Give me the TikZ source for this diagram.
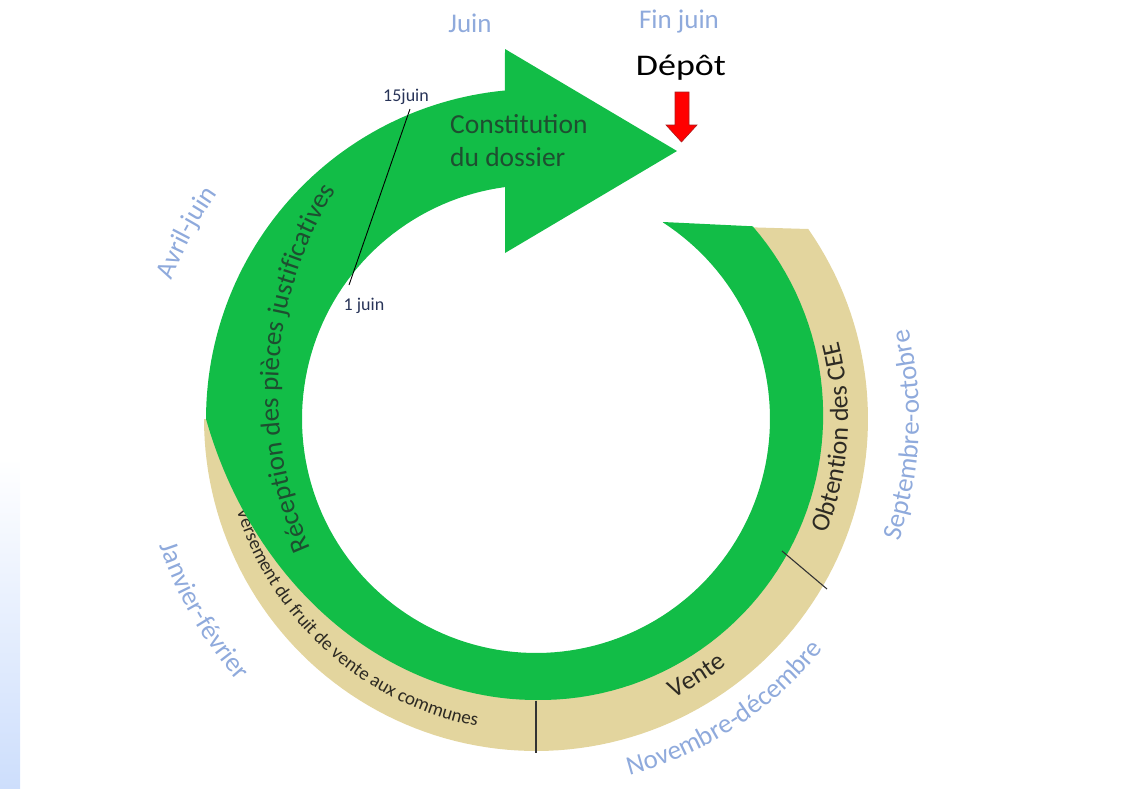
\documentclass[tikz,border=0pt]{standalone}
\usepackage{fontspec}
\setmainfont{Carlito}
\usetikzlibrary{decorations.text}
\definecolor{ringgreen}{RGB}{18,189,71}
\definecolor{ringtan}{RGB}{227,213,158}
\definecolor{monthblue}{RGB}{143,170,220}
\definecolor{datenavy}{RGB}{40,52,88}
\definecolor{greentext}{RGB}{30,78,48}
\definecolor{tantext}{RGB}{45,42,35}
\definecolor{depotedge}{RGB}{170,30,30}
\definecolor{stripblue}{RGB}{205,222,252}
\newcommand{\ringtext}[6]{%
  \path[shift={#1}, decorate, decoration={text along path, text align=center, text={|#5|#6}}]
    (#3:#2) arc[start angle=#3, end angle=#4, radius=#2];%
}
\tikzset{
  month/.style={text=monthblue, font=\fontsize{27}{30}\selectfont, anchor=base},
  datelbl/.style={text=datenavy, font=\fontsize{18}{20}\selectfont, anchor=base},
  tick/.style={line width=1.1pt, draw=black!80},
}
\begin{document}
\begin{tikzpicture}[x=1pt,y=1pt]
\useasboundingbox (0,0) rectangle (1128,-788);
% left gradient strip
\shade[top color=white, bottom color=stripblue] (0,-458) rectangle (20,-788);
% tan band
\fill[ringtan] (808.3,-229)
  -- plot[domain=34.9:-180,samples=120] ({536+332*cos(\x)},{-419+332*sin(\x)})
  -- plot[domain=-180:47.9,samples=120] ({536+260*cos(\x)},{-419+260*sin(\x)})
  -- cycle;
% curved text in the tan band (partly covered by the green arrow)
\ringtext{(536,-419)}{313}{188}{268}{\fontsize{19}{19}\selectfont\color{tantext}}{Versement du fruit de vente aux communes}
% green circular arrow
\fill[ringgreen] (663,-222) -- (753,-226.3)
  -- plot[domain=41.6:-90,samples=60] ({536+(281+9*(\x+90)/131.6)*cos(\x)},{-419+(281+9*(\x+90)/131.6)*sin(\x)})
  -- plot[domain=-90:-180,samples=60] ({536+(281+49*((-90-(\x))/90)^3)*cos(\x)},{-419+(281+49*((-90-(\x))/90)^3)*sin(\x)})
  -- plot[domain=180:95.4,samples=60] ({536+330*cos(\x)},{-419+330*sin(\x)})
  -- (505,-49) -- (677,-151) -- (505,-253) -- (505,-187)
  -- plot[domain=97.6:417.2,samples=160] ({536+234*cos(\x)},{-419+234*sin(\x)})
  -- cycle;
% tick lines
\coordinate (j15) at (410,-109);
\coordinate (j1) at (349,-285);
\draw[line width=0.9pt] (j15) -- (j1);
\coordinate (b1) at (536,-701);
\coordinate (b2) at (536,-753);
\draw[tick] (b1) -- (b2);
\coordinate (r1) at (782,-551);
\coordinate (r2) at (827,-589);
\draw[tick] (r1) -- (r2);
% red arrow
\filldraw[fill=red, draw=depotedge, line width=0.6pt]
  (675,-92) -- (689,-92) -- (689,-125) -- (697,-125) -- (681.5,-142) -- (666,-125) -- (675,-125) -- cycle;
% straight labels
\node[month] (juin) at (470,-32) {Juin};
\node[month] (finjuin) at (679,-28.5) {Fin juin};
\node[anchor=base, font=\fontsize{30}{34}\selectfont, xscale=1.2] (depot) at (681,-75) {Dépôt};
\node[datelbl] (l15) at (406,-101.7) {15juin};
\node[datelbl] (l1) at (364,-310) {1 juin};
\node[anchor=base west, text=greentext, font=\fontsize{27.5}{32.5}\selectfont, inner sep=0pt] (c1) at (450,-133.5) {Constitution};
\node[anchor=base west, text=greentext, font=\fontsize{27.5}{32.5}\selectfont, inner sep=0pt] (c2) at (450,-166) {du dossier};
% curved labels
\ringtext{(662,-393)}{384}{212}{140}{\fontsize{27}{27}\selectfont\color{greentext}}{Réception des pièces justificatives}
\ringtext{(536,-419)}{312}{-32}{25}{\fontsize{26}{26}\selectfont\color{tantext}}{Obtention des CEE}
\ringtext{(536,-419)}{311}{-78}{-38}{\fontsize{26}{26}\selectfont\color{tantext}}{Vente}
\ringtext{(536,-419)}{368}{-90}{-24}{\fontsize{27}{27}\selectfont\color{monthblue}}{Novembre-décembre}
\ringtext{(536,-419)}{383}{-31}{26}{\fontsize{27}{27}\selectfont\color{monthblue}}{Septembre-octobre}
\ringtext{(536,-419)}{397}{185}{235}{\fontsize{27}{27}\selectfont\color{monthblue}}{Janvier-février}
\ringtext{(536,-419)}{390}{175}{129}{\fontsize{27}{27}\selectfont\color{monthblue}}{Avril-juin}
\end{tikzpicture}
\end{document}
